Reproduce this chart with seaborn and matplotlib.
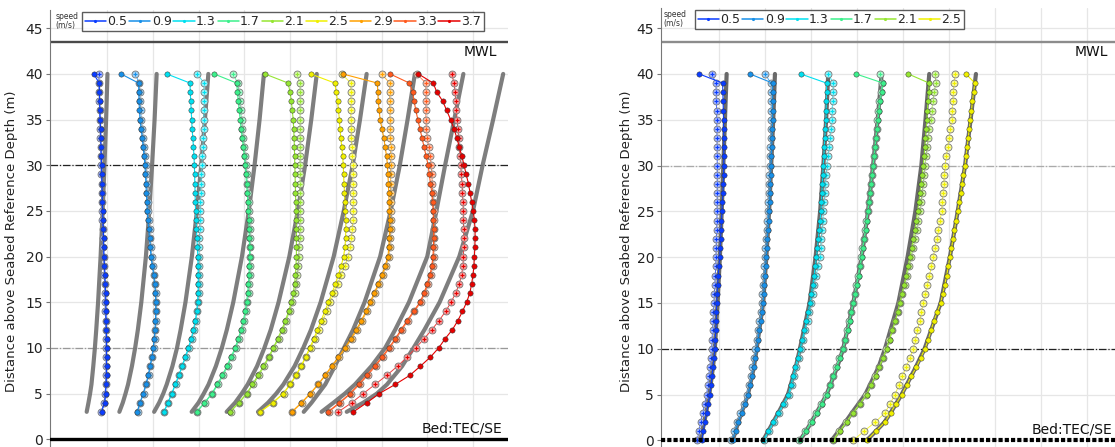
import numpy as np
import pandas as pd
import matplotlib.pyplot as plt
import seaborn as sns
from matplotlib.lines import Line2D
from matplotlib.colors import to_rgb

sns.set_theme(style='white')
plt.rcParams['font.family'] = ['DejaVu Sans']

# ---------------- data ----------------
# left panel: bins 3..40 m, x in grid units (one vertical grid step = 1)
left_speeds = ['0.5', '0.9', '1.3', '1.7', '2.1', '2.5', '2.9', '3.3', '3.7']
left_z = list(range(3, 41))
left_model_z = [3, 4, 5, 6, 8, 10, 12, 15, 20, 25, 30, 35, 40]

L05_fill = [0.88, 0.95, 0.97, 0.98, 0.99, 0.99, 0.99, 0.99, 0.99, 0.985, 0.98, 0.98, 0.975, 0.97, 0.96, 0.955, 0.945, 0.935, 0.93, 0.925,
            0.92, 0.91, 0.905, 0.90, 0.895, 0.89, 0.885, 0.88, 0.875, 0.87, 0.865, 0.86, 0.85, 0.845, 0.84, 0.835, 0.83, 0.71]
L05_open = [0.87, 0.94, 0.96, 0.97, 0.975, 0.98, 0.98, 0.98, 0.98, 0.975, 0.97, 0.965, 0.96, 0.955, 0.95, 0.945, 0.935, 0.925, 0.92, 0.915,
            0.905, 0.90, 0.895, 0.89, 0.885, 0.88, 0.875, 0.87, 0.865, 0.86, 0.855, 0.85, 0.845, 0.84, 0.835, 0.83, 0.825, 0.82]
L09_fill = [1.66, 1.72, 1.79, 1.85, 1.90, 1.94, 1.98, 2.01, 2.03, 2.05, 2.06, 2.065, 2.065, 2.06, 2.04, 2.02, 1.99, 1.96, 1.945, 1.93,
            1.91, 1.895, 1.88, 1.87, 1.86, 1.85, 1.84, 1.83, 1.81, 1.79, 1.77, 1.745, 1.72, 1.71, 1.70, 1.695, 1.69, 1.305]
L09_open = [1.67, 1.73, 1.80, 1.86, 1.91, 1.95, 1.99, 2.02, 2.04, 2.06, 2.07, 2.075, 2.075, 2.07, 2.05, 2.03, 2.0, 1.975, 1.96, 1.945,
            1.93, 1.915, 1.90, 1.89, 1.88, 1.87, 1.86, 1.85, 1.83, 1.81, 1.79, 1.77, 1.75, 1.735, 1.725, 1.715, 1.71, 1.61]
L13_fill = [2.245, 2.33, 2.415, 2.49, 2.57, 2.64, 2.71, 2.78, 2.84, 2.89, 2.93, 2.96, 2.98, 2.99, 2.995, 2.995, 2.99, 2.985, 2.975, 2.965,
            2.955, 2.945, 2.935, 2.93, 2.925, 2.92, 2.915, 2.91, 2.90, 2.89, 2.875, 2.86, 2.85, 2.84, 2.83, 2.82, 2.815, 2.305]
L13_open = [2.25, 2.335, 2.42, 2.5, 2.575, 2.65, 2.72, 2.79, 2.85, 2.9, 2.94, 2.97, 2.99, 3.0, 3.005, 3.01, 3.01, 3.01, 3.015, 3.02,
            3.025, 3.03, 3.035, 3.04, 3.045, 3.055, 3.065, 3.075, 3.085, 3.095, 3.105, 3.11, 3.115, 3.12, 3.12, 3.12, 3.12, 2.975]
L17_fill = [2.96, 3.13, 3.29, 3.41, 3.52, 3.62, 3.71, 3.80, 3.87, 3.93, 3.98, 4.02, 4.05, 4.075, 4.09, 4.105, 4.11, 4.115, 4.115, 4.11,
            4.105, 4.10, 4.09, 4.08, 4.065, 4.05, 4.035, 4.02, 4.0, 3.98, 3.955, 3.93, 3.91, 3.89, 3.87, 3.85, 3.835, 3.34]
L17_open = [2.97, 3.14, 3.30, 3.43, 3.54, 3.64, 3.73, 3.82, 3.89, 3.95, 4.0, 4.04, 4.07, 4.095, 4.11, 4.125, 4.13, 4.135, 4.135, 4.13,
            4.125, 4.12, 4.11, 4.10, 4.085, 4.07, 4.055, 4.04, 4.02, 4.0, 3.98, 3.96, 3.94, 3.92, 3.90, 3.88, 3.86, 3.75]
L21_fill = [3.69, 3.88, 4.05, 4.18, 4.30, 4.42, 4.53, 4.635, 4.73, 4.82, 4.90, 4.97, 5.03, 5.07, 5.10, 5.12, 5.13, 5.14, 5.14, 5.14,
            5.14, 5.135, 5.13, 5.125, 5.12, 5.115, 5.11, 5.105, 5.10, 5.095, 5.09, 5.08, 5.07, 5.05, 5.03, 5.0, 4.96, 4.45]
L21_open = [3.70, 3.89, 4.06, 4.20, 4.32, 4.44, 4.55, 4.65, 4.75, 4.84, 4.92, 4.99, 5.05, 5.10, 5.13, 5.16, 5.18, 5.19, 5.20, 5.21,
            5.21, 5.215, 5.22, 5.22, 5.22, 5.22, 5.22, 5.22, 5.22, 5.22, 5.22, 5.22, 5.22, 5.22, 5.22, 5.22, 5.22, 5.15]
L25_fill = [4.345, 4.62, 4.85, 5.0, 5.13, 5.24, 5.34, 5.43, 5.52, 5.60, 5.68, 5.76, 5.84, 5.92, 5.99, 6.06, 6.12, 6.17, 6.20, 6.215,
            6.22, 6.22, 6.21, 6.2, 6.19, 6.18, 6.17, 6.165, 6.15, 6.13, 6.11, 6.09, 6.08, 6.06, 6.04, 6.01, 5.98, 5.45]
L25_open = [4.35, 4.63, 4.86, 5.01, 5.14, 5.25, 5.35, 5.45, 5.54, 5.63, 5.72, 5.80, 5.88, 5.96, 6.04, 6.12, 6.2, 6.27, 6.31, 6.34,
            6.36, 6.37, 6.37, 6.37, 6.37, 6.37, 6.37, 6.37, 6.36, 6.35, 6.34, 6.34, 6.33, 6.33, 6.33, 6.33, 6.33, 6.13]
L29_fill = [5.04, 5.25, 5.44, 5.61, 5.765, 5.91, 6.06, 6.20, 6.33, 6.45, 6.56, 6.66, 6.75, 6.84, 6.93, 7.01, 7.08, 7.14, 7.16, 7.17,
            7.175, 7.175, 7.17, 7.165, 7.16, 7.15, 7.14, 7.13, 7.11, 7.08, 7.05, 7.01, 6.97, 6.95, 6.93, 6.92, 6.91, 6.15]
L29_open = [5.05, 5.26, 5.45, 5.62, 5.78, 5.93, 6.08, 6.22, 6.35, 6.47, 6.58, 6.68, 6.77, 6.86, 6.95, 7.03, 7.10, 7.16, 7.18, 7.19,
            7.2, 7.2, 7.2, 7.2, 7.2, 7.2, 7.2, 7.2, 7.2, 7.2, 7.19, 7.19, 7.19, 7.18, 7.18, 7.18, 7.18, 7.0]
L33_fill = [5.83, 6.08, 6.31, 6.50, 6.68, 6.85, 7.01, 7.16, 7.30, 7.43, 7.56, 7.70, 7.84, 7.93, 8.0, 8.06, 8.10, 8.125, 8.135, 8.14,
            8.14, 8.135, 8.13, 8.115, 8.10, 8.07, 8.045, 8.02, 7.975, 7.93, 7.885, 7.84, 7.795, 7.75, 7.715, 7.68, 7.61, 7.185]
L33_open = [5.85, 6.10, 6.33, 6.52, 6.70, 6.87, 7.03, 7.18, 7.32, 7.45, 7.58, 7.72, 7.86, 7.95, 8.02, 8.08, 8.12, 8.14, 8.15, 8.155,
            8.155, 8.15, 8.14, 8.13, 8.12, 8.11, 8.10, 8.09, 8.06, 8.03, 8.0, 7.98, 7.97, 7.97, 7.97, 7.97, 7.97, 7.77]
L37_fill = [6.385, 6.68, 6.95, 7.30, 7.62, 7.85, 8.07, 8.25, 8.39, 8.55, 8.67, 8.77, 8.86, 8.93, 8.97, 9.0, 9.02, 9.03, 9.04, 9.045,
            9.045, 9.03, 9.005, 8.97, 8.935, 8.90, 8.85, 8.805, 8.755, 8.70, 8.645, 8.585, 8.51, 8.425, 8.34, 8.21, 8.13, 7.805]
L37_open = [6.055, 6.35, 6.60, 6.86, 7.115, 7.35, 7.56, 7.75, 7.93, 8.10, 8.26, 8.40, 8.52, 8.62, 8.70, 8.75, 8.78, 8.79, 8.795, 8.795,
            8.795, 8.79, 8.79, 8.78, 8.77, 8.76, 8.745, 8.73, 8.715, 8.70, 8.685, 8.67, 8.65, 8.635, 8.62, 8.61, 8.585, 8.535]

# model (grey) profiles, left panel
LG05 = [0.556, 0.595, 0.63, 0.66, 0.70, 0.735, 0.765, 0.805, 0.86, 0.905, 0.945, 0.98, 1.01]
LG09 = [1.27, 1.345, 1.405, 1.46, 1.545, 1.615, 1.675, 1.75, 1.85, 1.925, 1.985, 2.04, 2.085]
LG13 = [2.03, 2.14, 2.23, 2.305, 2.43, 2.53, 2.61, 2.715, 2.855, 2.965, 3.06, 3.14, 3.215]
LG17 = [2.85, 3.0, 3.115, 3.22, 3.38, 3.51, 3.62, 3.76, 3.95, 4.1, 4.225, 4.335, 4.43]
LG21 = [3.615, 3.80, 3.945, 4.075, 4.28, 4.44, 4.58, 4.75, 4.985, 5.17, 5.33, 5.465, 5.585]
LG25 = [4.30, 4.52, 4.70, 4.855, 5.10, 5.29, 5.46, 5.67, 5.955, 6.175, 6.37, 6.53, 6.675]
LG29 = [5.3, 5.47, 5.62, 5.77, 5.98, 6.18, 6.38, 6.63, 6.97, 7.2, 7.4, 7.57, 7.73]
LG33 = [5.69, 5.95, 6.2, 6.42, 6.78, 7.08, 7.3, 7.6, 8.0, 8.2, 8.39, 8.59, 8.79]
LG37 = [6.24, 6.6, 6.9, 7.12, 7.45, 7.7, 7.94, 8.27, 8.7, 9.0, 9.21, 9.44, 9.66]

# right panel: bins 0..40 m
right_speeds = ['0.5', '0.9', '1.3', '1.7', '2.1', '2.5']
right_z = list(range(0, 41))
right_model_z = [0, 1, 2, 3, 5, 8, 10, 15, 20, 25, 30, 35, 40]

R05_fill = [0.624, 0.66, 0.696, 0.73, 0.765, 0.80, 0.825, 0.85, 0.87, 0.89, 0.91, 0.92, 0.93, 0.94, 0.945, 0.95, 0.96, 0.97, 0.985, 1.0,
            1.015, 1.025, 1.035, 1.045, 1.055, 1.065, 1.075, 1.085, 1.095, 1.10, 1.105, 1.105, 1.105, 1.105, 1.10, 1.10, 1.095, 1.09, 1.085, 1.08, 0.572]
R05_open = [0.528, 0.565, 0.60, 0.645, 0.69, 0.733, 0.755, 0.775, 0.80, 0.82, 0.84, 0.85, 0.86, 0.87, 0.88, 0.891, 0.90, 0.91, 0.92, 0.93,
            0.935, 0.94, 0.945, 0.95, 0.955, 0.96, 0.962, 0.963, 0.963, 0.963, 0.963, 0.962, 0.96, 0.958, 0.955, 0.95, 0.948, 0.945, 0.94, 0.935, 0.84]
R09_fill = [1.298, 1.36, 1.42, 1.495, 1.57, 1.637, 1.68, 1.72, 1.755, 1.79, 1.82, 1.85, 1.88, 1.91, 1.94, 1.963, 1.975, 1.99, 2.003, 2.016,
            2.028, 2.04, 2.053, 2.066, 2.08, 2.093, 2.10, 2.11, 2.117, 2.124, 2.13, 2.14, 2.147, 2.155, 2.16, 2.167, 2.167, 2.167, 2.167, 2.167, 1.674]
R09_open = [1.27, 1.33, 1.39, 1.465, 1.54, 1.605, 1.65, 1.69, 1.725, 1.76, 1.79, 1.82, 1.85, 1.88, 1.91, 1.935, 1.945, 1.96, 1.975, 1.985,
            2.0, 2.01, 2.025, 2.035, 2.05, 2.065, 2.07, 2.08, 2.09, 2.095, 2.1, 2.11, 2.115, 2.125, 2.13, 2.135, 2.135, 2.135, 2.135, 2.13, 2.0]
R13_fill = [1.963, 2.07, 2.18, 2.29, 2.40, 2.507, 2.56, 2.61, 2.66, 2.71, 2.761, 2.81, 2.855, 2.90, 2.94, 2.978, 3.01, 3.04, 3.07, 3.095,
            3.12, 3.14, 3.16, 3.18, 3.20, 3.217, 3.227, 3.237, 3.247, 3.257, 3.267, 3.28, 3.29, 3.30, 3.313, 3.326, 3.33, 3.334, 3.338, 3.341, 2.776]
R13_open = [1.98, 2.09, 2.20, 2.31, 2.42, 2.53, 2.585, 2.635, 2.685, 2.735, 2.785, 2.835, 2.88, 2.925, 2.965, 3.005, 3.04, 3.075, 3.11, 3.155,
            3.196, 3.21, 3.225, 3.24, 3.255, 3.27, 3.285, 3.30, 3.315, 3.33, 3.341, 3.365, 3.39, 3.41, 3.43, 3.45, 3.46, 3.47, 3.48, 3.485, 3.376]
R17_fill = [2.761, 2.89, 3.015, 3.125, 3.235, 3.341, 3.42, 3.49, 3.56, 3.63, 3.702, 3.75, 3.795, 3.84, 3.88, 3.92, 3.96, 3.995, 4.035, 4.07,
            4.102, 4.13, 4.16, 4.19, 4.215, 4.24, 4.265, 4.29, 4.31, 4.33, 4.354, 4.375, 4.395, 4.415, 4.435, 4.457, 4.48, 4.505, 4.535, 4.572, 3.978]
R17_open = [2.75, 2.88, 3.005, 3.115, 3.225, 3.33, 3.41, 3.48, 3.55, 3.62, 3.69, 3.74, 3.785, 3.83, 3.87, 3.91, 3.95, 3.985, 4.025, 4.06,
            4.09, 4.12, 4.15, 4.18, 4.205, 4.23, 4.255, 4.28, 4.30, 4.32, 4.345, 4.365, 4.385, 4.405, 4.425, 4.445, 4.465, 4.49, 4.52, 4.55, 4.50]
R21_fill = [3.485, 3.63, 3.776, 3.92, 4.07, 4.211, 4.31, 4.405, 4.49, 4.57, 4.646, 4.71, 4.77, 4.83, 4.885, 4.935, 4.98, 5.025, 5.07, 5.11,
            5.152, 5.19, 5.225, 5.26, 5.29, 5.32, 5.345, 5.37, 5.395, 5.42, 5.441, 5.46, 5.475, 5.49, 5.505, 5.52, 5.53, 5.545, 5.558, 5.572, 5.115]
R21_open = [3.47, 3.62, 3.765, 3.91, 4.06, 4.20, 4.30, 4.395, 4.48, 4.56, 4.636, 4.70, 4.765, 4.83, 4.885, 4.935, 4.985, 5.035, 5.085, 5.135,
            5.18, 5.22, 5.26, 5.295, 5.33, 5.36, 5.39, 5.415, 5.44, 5.46, 5.478, 5.50, 5.525, 5.55, 5.575, 5.60, 5.625, 5.65, 5.675, 5.717, 5.696]
R25_fill = [4.211, 4.41, 4.609, 4.73, 4.85, 4.972, 5.08, 5.18, 5.29, 5.385, 5.478, 5.55, 5.61, 5.67, 5.745, 5.82, 5.865, 5.91, 5.95, 5.985,
            6.022, 6.055, 6.09, 6.12, 6.155, 6.19, 6.22, 6.255, 6.285, 6.315, 6.348, 6.37, 6.395, 6.42, 6.44, 6.465, 6.49, 6.51, 6.535, 6.565, 6.37]
R25_open = [3.92, 4.15, 4.40, 4.609, 4.72, 4.826, 4.91, 4.99, 5.07, 5.15, 5.224, 5.27, 5.315, 5.36, 5.40, 5.441, 5.485, 5.53, 5.575, 5.62,
            5.659, 5.695, 5.73, 5.77, 5.805, 5.841, 5.855, 5.87, 5.885, 5.90, 5.913, 5.943, 5.972, 6.0, 6.03, 6.059, 6.07, 6.08, 6.095, 6.109, 6.13]

RG05 = [0.60, 0.64, 0.68, 0.72, 0.79, 0.87, 0.91, 0.97, 1.02, 1.06, 1.095, 1.13, 1.167]
RG09 = [1.30, 1.36, 1.42, 1.49, 1.63, 1.76, 1.82, 1.96, 2.03, 2.09, 2.135, 2.18, 2.217]
RG13 = [1.96, 2.07, 2.18, 2.29, 2.50, 2.67, 2.76, 2.97, 3.10, 3.20, 3.27, 3.33, 3.376]
RG17 = [2.76, 2.89, 3.01, 3.12, 3.34, 3.57, 3.70, 3.92, 4.10, 4.24, 4.35, 4.45, 4.537]
RG21 = [3.45, 3.60, 3.75, 3.89, 4.18, 4.47, 4.61, 4.90, 5.10, 5.27, 5.40, 5.49, 5.572]
RG25 = [4.21, 4.41, 4.60, 4.73, 4.97, 5.28, 5.47, 5.82, 6.02, 6.19, 6.35, 6.47, 6.587]

speed_colors = ['#0a3cff', '#1890e8', '#00e0f0', '#3cf08c', '#96e632',
                '#f0f000', '#ffa000', '#ff5a1e', '#e60000']

left_fill = [L05_fill, L09_fill, L13_fill, L17_fill, L21_fill, L25_fill, L29_fill, L33_fill, L37_fill]
left_open = [L05_open, L09_open, L13_open, L17_open, L21_open, L25_open, L29_open, L33_open, L37_open]
left_model = [LG05, LG09, LG13, LG17, LG21, LG25, LG29, LG33, LG37]
right_fill = [R05_fill, R09_fill, R13_fill, R17_fill, R21_fill, R25_fill]
right_open = [R05_open, R09_open, R13_open, R17_open, R21_open, R25_open]
right_model = [RG05, RG09, RG13, RG17, RG21, RG25]


def tint(c, f):
    r = np.array(to_rgb(c))
    return tuple(r + (1 - r) * f)


def draw_panel(ax, speeds, z, model_z, fills, opens, models, grey):
    for m in models:
        d = pd.DataFrame({'x': m, 'z': model_z})
        sns.lineplot(data=d, x='x', y='z', ax=ax, color=grey, linewidth=3.0,
                     sort=False, estimator=None, zorder=2, alpha=0.9)
    for s, o, c in zip(speeds, opens, speed_colors):
        d = pd.DataFrame({'x': o, 'z': z})
        sns.lineplot(data=d, x='x', y='z', ax=ax, color=tint(c, 0.25), linewidth=0.7,
                     marker='o', markersize=5.0, markerfacecolor=tint(c, 0.6),
                     markeredgecolor='#777777', markeredgewidth=0.6,
                     sort=False, estimator=None, zorder=3)
        sns.scatterplot(data=d, x='x', y='z', ax=ax, marker='+', color=c, s=11,
                        linewidth=0.8, zorder=3.5, legend=False)
    for s, f, c in zip(speeds, fills, speed_colors):
        d = pd.DataFrame({'x': f, 'z': z})
        sns.lineplot(data=d, x='x', y='z', ax=ax, color=c, linewidth=0.8,
                     marker='o', markersize=3.8, markerfacecolor=c,
                     markeredgecolor='#333333', markeredgewidth=0.35,
                     sort=False, estimator=None, zorder=4)


fig = plt.figure(figsize=(11.15, 4.47), dpi=100)
ax1 = fig.add_axes([50 / 1115, 0, 458 / 1115, 437 / 447])
ax2 = fig.add_axes([661 / 1115, 0, 454 / 1115, 439 / 447])

draw_panel(ax1, left_speeds, left_z, left_model_z, left_fill, left_open, left_model, '#707070')
draw_panel(ax2, right_speeds, right_z, right_model_z, right_fill, right_open, right_model, '#5a5a5a')

dashdot = (0, (6, 1.5, 1, 1.5))
for ax, lims, mwl_col, l30, l10, bed_ls, bed_lw, txt_x, leg_x, ncol in [
        (ax1, (-0.246, 9.765, -0.85, 47.0), '#4a4a4a', '#222222', '#999999', '-', 2.4, 0.987, 0.07, 9),
        (ax2, (-0.26, 9.61, -0.72, 47.2), '#8c8c8c', '#aaaaaa', '#222222', (0, (1, 0.5)), 3.0, 0.994, 0.075, 6)]:
    ax.set_xlim(lims[0], lims[1])
    ax.set_ylim(lims[2], lims[3])
    ax.set_xticks(range(1, 10))
    ax.set_yticks(range(0, 50, 5))
    ax.grid(True, color='#e6e6e6', linewidth=0.9)
    ax.set_axisbelow(True)
    ax.tick_params(axis='x', length=0, labelbottom=False)
    ax.tick_params(axis='y', direction='out', length=3, width=0.8, color='#777777',
                   labelsize=10, labelcolor='#222222', pad=2, left=True)
    for sp in ['top', 'right', 'bottom']:
        ax.spines[sp].set_visible(False)
    ax.spines['left'].set_color('#777777')
    ax.spines['left'].set_linewidth(0.8)
    ax.set_xlabel('')
    ax.set_ylabel('Distance above Seabed Reference Depth (m)', fontsize=9.5, color='#222222')

    ax.axhline(43.5, color=mwl_col, linewidth=1.7, zorder=1.5)
    ax.axhline(30, color=l30, linewidth=0.9, linestyle=dashdot, zorder=1.6)
    ax.axhline(10, color=l10, linewidth=0.9, linestyle=dashdot, zorder=1.6)
    ax.axhline(0, color='black', linewidth=bed_lw, linestyle=bed_ls, zorder=5)

    tr = ax.get_yaxis_transform()
    ax.text(txt_x - 0.01, 42.45, 'MWL', transform=tr, ha='right', va='center', fontsize=10, color='#111111')
    ax.text(txt_x, 1.2, 'Bed:TEC/SE', transform=tr, ha='right', va='center', fontsize=10, color='#111111')

    handles = [Line2D([0], [0], color=c, linewidth=1.1, marker='.', markersize=2.5) for c in speed_colors[:ncol]]
    labels = (left_speeds if ncol == 9 else right_speeds)
    leg = ax.legend(handles, labels, ncol=ncol, loc='upper left', bbox_to_anchor=(leg_x, 0.995),
                    frameon=True, fancybox=False, edgecolor='#333333', fontsize=9,
                    handlelength=1.7, handletextpad=0.1, columnspacing=0.15,
                    borderpad=0.22, borderaxespad=0)
    leg.get_frame().set_linewidth(1.0)
    leg.set_zorder(10)
    ax.text(0.012 if ncol == 9 else 0.005, 0.975, 'speed\n(m/s)', transform=ax.transAxes,
            fontsize=5.5, ha='left', va='center', color='#333333', linespacing=1.0)

ax1.yaxis.set_label_coords(-0.07, 0.471)
ax2.yaxis.set_label_coords(-0.062, 0.468)

fig.savefig('out.png', dpi=100)
